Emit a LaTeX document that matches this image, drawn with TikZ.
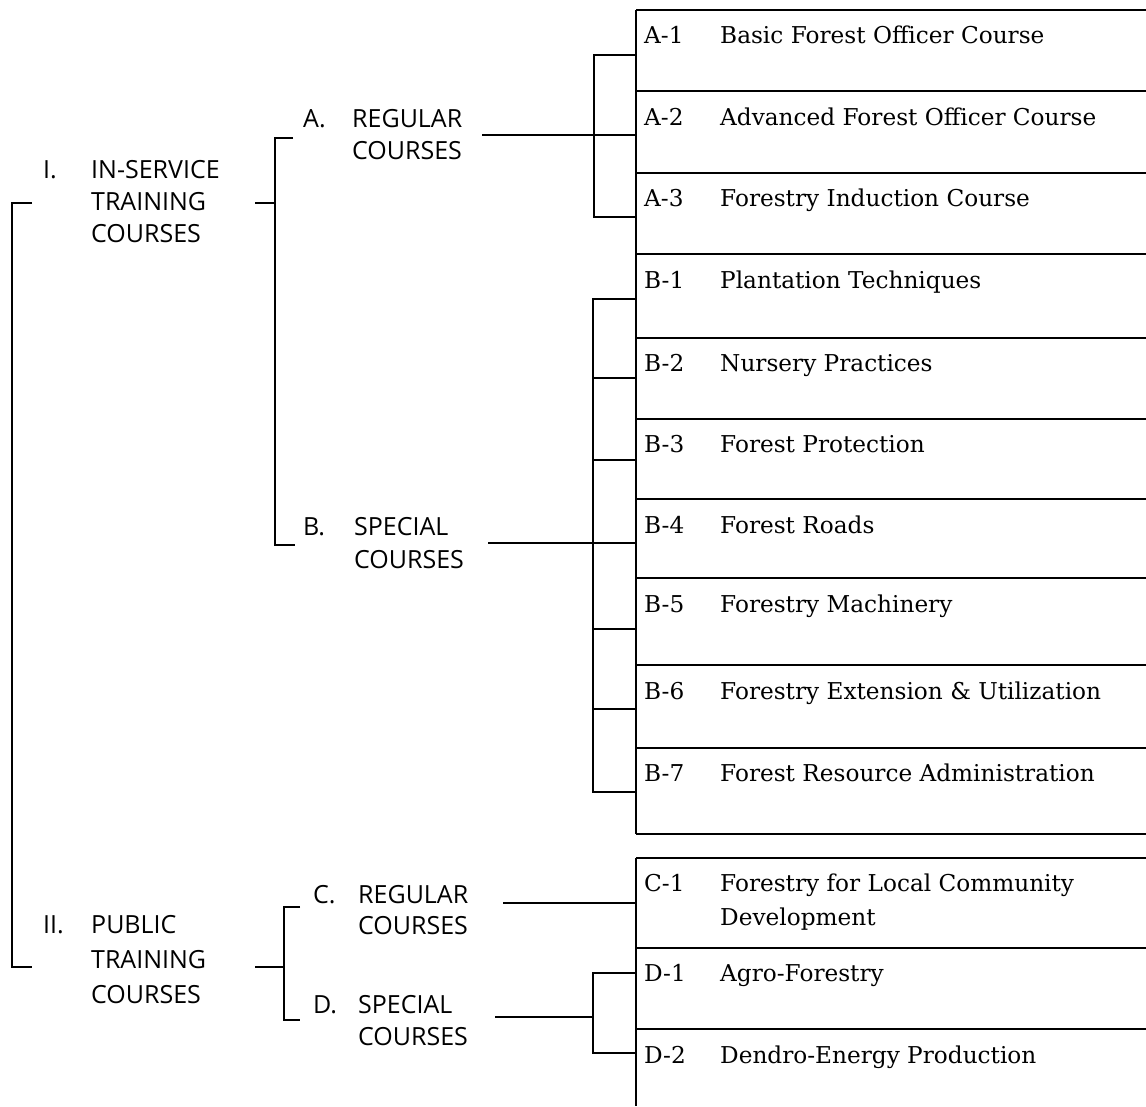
\documentclass[tikz,border=0pt]{standalone}
\usepackage{fontspec}
\setmainfont{DejaVu Serif}
\newfontfamily\labfont{Open Sans}
\begin{document}
\begin{tikzpicture}[x=1pt,y=-1pt,
  conn/.style={line width=1.4pt},
  boxline/.style={line width=1.6pt},
  rowid/.style={anchor=base west, inner sep=0pt, font=\fontsize{23.2}{34}\selectfont},
  rowtxt/.style={anchor=base west, inner sep=0pt, align=left, font=\fontsize{23.2}{34}\selectfont},
  grpnum/.style={anchor=base west, inner sep=0pt, font=\labfont\fontsize{25}{32}\selectfont},
  grp/.style={anchor=base west, inner sep=0pt, align=left, font=\labfont\fontsize{25}{32}\selectfont},
]
\useasboundingbox (0,0) rectangle (1146,1106);

% ---------- course boxes ----------
\foreach \y in {10,91,173,254,338,419,499,578,665,748,834,858,948,1029}
  \draw[boxline] (636,\y) -- (1146,\y);
\draw[boxline] (636,10) -- (636,834);
\draw[boxline] (636,858) -- (636,1106);

% ---------- row texts ----------
\foreach \nm/\id/\t/\y in {A1/A-1/Basic Forest Officer Course/43,
  A2/A-2/Advanced Forest Officer Course/125,
  A3/A-3/Forestry Induction Course/206,
  B1/B-1/Plantation Techniques/288,
  B2/B-2/Nursery Practices/371,
  B3/B-3/Forest Protection/452,
  B4/B-4/Forest Roads/533,
  B5/B-5/Forestry Machinery/612,
  B6/B-6/Forestry Extension \& Utilization/699,
  B7/B-7/Forest Resource Administration/781,
  D1/D-1/Agro-Forestry/981,
  D2/D-2/Dendro-Energy Production/1063}
{
  \node[rowid] (id\nm) at (644,\y) {\id};
  \node[rowtxt] (t\nm) at (720,\y) {\t};
}
\node[rowid] (idC1) at (644,891) {C-1};
\node[rowtxt] (tC1) at (720,925) {Forestry for Local Community\\Development};

% ---------- group labels (base = last line) ----------
\node[grpnum] (nI) at (43,178) {I.};
\node[grp] (gI) at (91,242) {IN-SERVICE\\TRAINING\\COURSES};
\node[grpnum] (nA) at (303,127) {A.};
\node[grp] (gA) at (352,159) {REGULAR\\COURSES};
\node[grpnum] (nB) at (303,535) {B.};
\node[grp, font=\labfont\fontsize{25}{33}\selectfont] (gB) at (354,568) {SPECIAL\\COURSES};
\node[grpnum] (nII) at (43,933) {II.};
\node[grp, font=\labfont\fontsize{25}{35}\selectfont] (gII) at (91,1003) {PUBLIC\\TRAINING\\COURSES};
\node[grpnum] (nC) at (313,903) {C.};
\node[grp, font=\labfont\fontsize{25}{31}\selectfont] (gC) at (358,934) {REGULAR\\COURSES};
\node[grpnum] (nD) at (313,1013) {D.};
\node[grp] (gD) at (358,1045) {SPECIAL\\COURSES};

% ---------- coordinates ----------
\coordinate (oTop) at (32,203);
\coordinate (oBot) at (32,967);
\coordinate (Iout) at (255,203);
\coordinate (Ibr) at (275,203);
\coordinate (Ato) at (293,138);
\coordinate (Bto) at (295,545);
\coordinate (IIout) at (255,967);
\coordinate (IIbr) at (284,967);
\coordinate (Cto) at (300,907);
\coordinate (Dto) at (300,1020);
\coordinate (Aout) at (482,135);
\coordinate (Abr) at (594,135);
\coordinate (Bout) at (488,543);
\coordinate (Bbr) at (593,543);
\coordinate (Cout) at (503,903);
\coordinate (Cin) at (636,903);
\coordinate (Dout) at (495,1017);
\coordinate (Dbr) at (593,1017);

% ---------- outer bracket ----------
\draw[conn] (oTop) -- (12,203) -- (12,967) -- (oBot);

% ---------- level I / II brackets ----------
\draw[conn] (Iout) -- (Ibr);
\draw[conn] (Ato) -- (275,138) -- (275,545) -- (Bto);
\draw[conn] (IIout) -- (IIbr);
\draw[conn] (Cto) -- (284,907) -- (284,1020) -- (Dto);

% ---------- A bracket ----------
\draw[conn] (Aout) -- (Abr) -- (636,135);
\draw[conn] (636,55) -- (594,55) -- (594,217) -- (636,217);

% ---------- B bracket ----------
\draw[conn] (Bout) -- (Bbr) -- (636,543);
\draw[conn] (636,299) -- (593,299) -- (593,792) -- (636,792);
\foreach \y in {378,460,629,709}
  \draw[conn] (593,\y) -- (636,\y);

% ---------- C / D ----------
\draw[conn] (Cout) -- (Cin);
\draw[conn] (Dout) -- (Dbr);
\draw[conn] (636,973) -- (593,973) -- (593,1053) -- (636,1053);
\end{tikzpicture}
\end{document}
